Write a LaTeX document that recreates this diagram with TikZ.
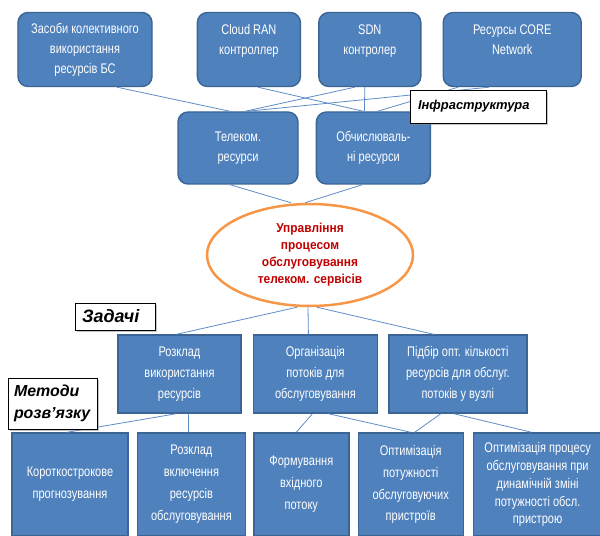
\documentclass[tikz,border=0pt]{standalone}
\usepackage{fontspec}
\setmainfont{Liberation Sans}
\newfontfamily\narrowfont{Liberation Sans}[FakeStretch=0.79]
\newfontfamily\ovalfont{Liberation Sans}[FakeStretch=0.92]
\usetikzlibrary{shapes,arrows,positioning,shadows}
\definecolor{boxblue}{HTML}{4F81BD}
\definecolor{boxline}{HTML}{3A6595}
\definecolor{linkblue}{HTML}{5E8CC8}
\definecolor{ovalline}{HTML}{F79646}
\definecolor{ovaltext}{HTML}{C00000}

\begin{document}
\begin{tikzpicture}[x=1bp, y=-1bp,
        infra/.style={rectangle, draw=boxline, line width=1.4bp, fill=boxblue, rounded corners=10bp, text=white, align=center, minimum height=74bp, inner sep=2bp, font={\narrowfont\fontsize{14}{20}\selectfont}},
        resource/.style={infra, minimum height=72bp},
        task/.style={rectangle, draw=boxline, line width=1.4bp, fill=boxblue, text=white, align=center, minimum height=78bp, inner sep=2bp, font={\narrowfont\fontsize{14}{21}\selectfont}},
        method/.style={task, minimum height=103bp, font={\narrowfont\fontsize{14}{22}\selectfont}},
        oval/.style={ellipse, draw=ovalline, line width=2.5bp, fill=white, minimum width=206bp, minimum height=102bp, inner sep=0pt, align=center, text=ovaltext, font={\ovalfont\bfseries\fontsize{13}{17}\selectfont}},
        tag/.style={rectangle, draw=black, line width=0.8bp, fill=white, drop shadow={shadow xshift=2bp, shadow yshift=-2bp, fill=black!45}, align=left, inner ysep=2bp, font={\bfseries\itshape\fontsize{16}{22}\selectfont}},
        link/.style={draw=linkblue, line width=0.8bp}]

    \useasboundingbox (0,0) rectangle (600,536);

    % Infrastructure (top)
    \node[infra, minimum width=134bp] (zasoby) at (85,49.5) {Засоби колективного\\використання\\ресурсів БС};
    \node[infra, minimum width=103bp, right=44bp of zasoby] (cran) {Cloud RAN\\контроллер\\\mbox{}};
    \node[infra, minimum width=102bp, right=17bp of cran] (sdn) {SDN\\контролер\\\mbox{}};
    \node[infra, minimum width=138bp, right=21bp of sdn] (core) {Ресурсы CORE\\Network\\\mbox{}};

    % Resources
    \node[resource, minimum width=120bp] (telecom) at (238,148) {Телеком.\\ресурси};
    \node[resource, minimum width=114bp, right=17bp of telecom] (compute) {Обчислюваль-\\ні ресурси};

    % Management (middle)
    \node[oval] (manage) at (310,255) {Управління\\процесом\\обслуговування\\телеком. сервісів};

    % Tasks
    \node[task, minimum width=123bp] (sched) at (179.5,374) {Розклад\\використання\\ресурсів};
    \node[task, minimum width=124bp, right=11bp of sched] (flows) {Організація\\потоків для\\обслуговування};
    \node[task, minimum width=138bp, right=10bp of flows] (count) {Підбір опт. кількості\\ресурсів для обслуг.\\потоків у вузлі};

    % Methods (bottom)
    \node[method, minimum width=116bp] (forecast) at (70,484.5) {Короткострокове\\прогнозування};
    \node[method, minimum width=108bp, right=8bp of forecast] (switch) {Розклад\\включення\\ресурсів\\обслуговування};
    \node[method, minimum width=95bp, right=7bp of switch] (inflow) {Формування\\вхідного\\потоку};
    \node[method, minimum width=105bp, right=8bp of inflow] (power) {Оптимізація\\потужності\\обслуговуючих\\пристроїв};
    \node[method, minimum width=128bp, right=9bp of power, font={\narrowfont\fontsize{14}{18}\selectfont}] (dynamic) {Оптимізація процесу\\обслуговування при\\динамічній зміні\\потужності обсл.\\пристрою};

    % Links
    \draw[link] ([xshift=32bp]zasoby.south) -- ([xshift=-8bp]telecom.north);
    \draw[link] ([xshift=9bp]cran.south) -- ([xshift=-10bp]compute.north);
    \draw[link] ([xshift=-15bp]sdn.south) -- ([xshift=7bp]telecom.north);
    \draw[link] ([xshift=-5bp]sdn.south) -- ([xshift=-9bp]compute.north);
    \draw[link] ([xshift=-23bp]core.south) -- ([xshift=9bp]telecom.north);
    \draw[link] ([xshift=-54bp]core.south) -- ([xshift=4bp]compute.north);
    \draw[link] ([xshift=-8bp]telecom.south) -- ([xshift=-19bp]manage.north);
    \draw[link] ([xshift=-11bp]compute.south) -- ([xshift=-5bp]manage.north);
    \draw[link] ([xshift=-13bp]manage.south) -- ([xshift=-3bp]sched.north);
    \draw[link] ([xshift=-2bp]manage.south) -- ([xshift=-7bp]flows.north);
    \draw[link] ([xshift=7bp]manage.south) -- ([xshift=-24bp]count.north);
    \draw[link] ([xshift=-3bp]sched.south) -- ([xshift=-3bp]forecast.north);
    \draw[link] ([xshift=9bp]sched.south) -- ([xshift=-3bp]switch.north);
    \draw[link] ([xshift=-3bp]flows.south) -- ([xshift=-5bp]inflow.north);
    \draw[link] ([xshift=13bp]flows.south) -- ([xshift=0bp]power.north);
    \draw[link] ([xshift=-17bp]count.south) -- ([xshift=4bp]power.north);
    \draw[link] ([xshift=-4bp]count.south) -- ([xshift=-6bp]dynamic.north);

    % Tags
    \node[tag, text width=120bp, inner xsep=8bp, minimum height=33bp, font={\bfseries\itshape\fontsize{13}{16}\selectfont}] (infratag) at (478,106.5) {Інфраструктура};
    \node[tag, text width=66bp, inner xsep=7bp, minimum height=27bp, font={\bfseries\itshape\fontsize{18}{22}\selectfont}] (tasktag) at (115,316.5) {Задачі};
    \node[tag, text width=77bp, inner xsep=6bp, minimum height=51bp] (methodtag) at (52.5,403.5) {Методи\\розв’язку};
\end{tikzpicture}
\end{document}
